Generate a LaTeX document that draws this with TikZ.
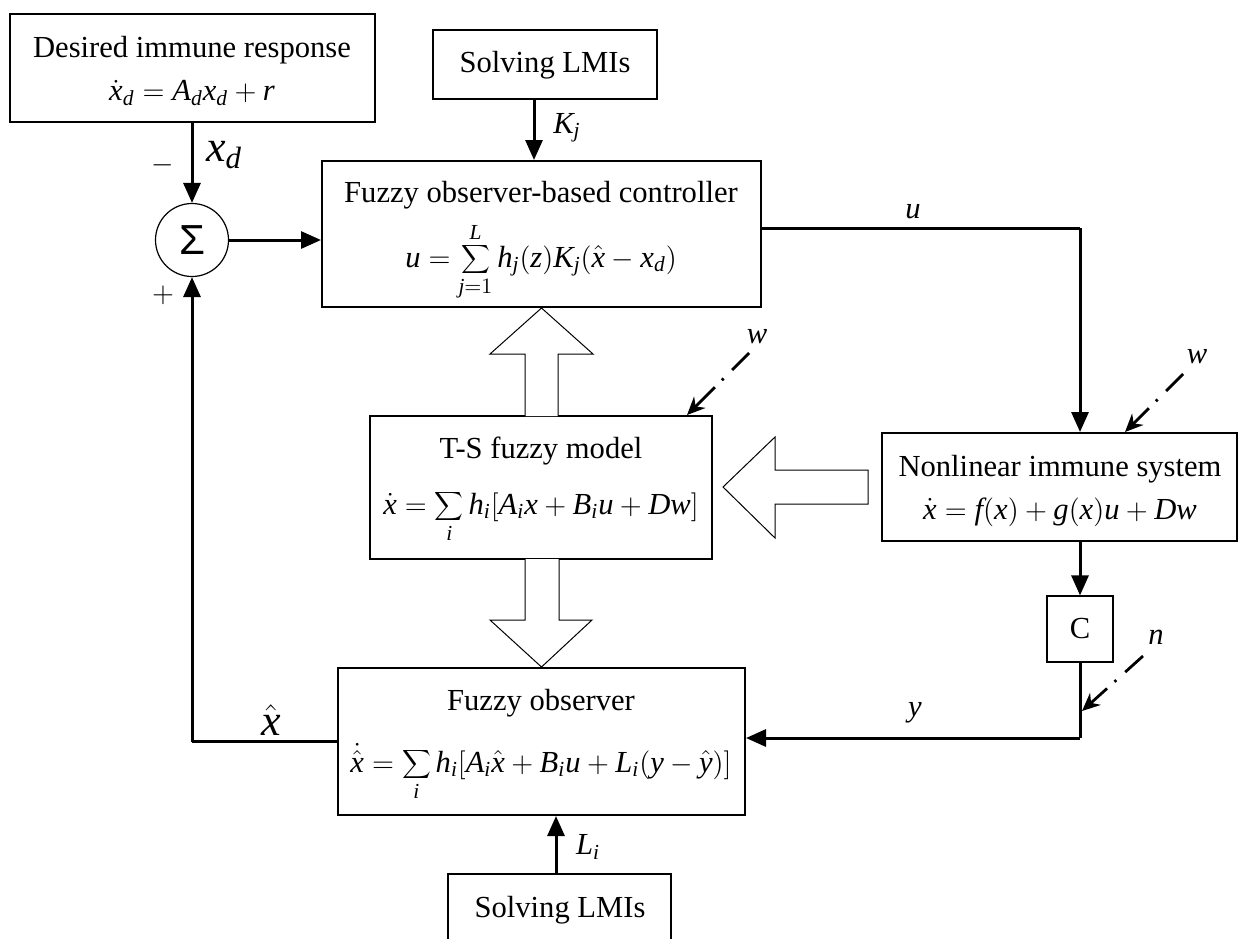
\documentclass[tikz,border=0pt]{standalone}
\usepackage{fontspec}
\setmainfont{Liberation Serif}
\newfontfamily\sigmafont{Liberation Sans}
\newfontfamily\timesfam{Liberation Serif}[NFSSFamily=timesmath]
\DeclareSymbolFont{tletters}{TU}{timesmath}{m}{it}
\DeclareSymbolFont{tupright}{TU}{timesmath}{m}{n}
\DeclareMathSymbol{a}{\mathalpha}{tletters}{`a}
\DeclareMathSymbol{d}{\mathalpha}{tletters}{`d}
\DeclareMathSymbol{f}{\mathalpha}{tletters}{`f}
\DeclareMathSymbol{g}{\mathalpha}{tletters}{`g}
\DeclareMathSymbol{h}{\mathalpha}{tletters}{`h}
\DeclareMathSymbol{i}{\mathalpha}{tletters}{`i}
\DeclareMathSymbol{j}{\mathalpha}{tletters}{`j}
\DeclareMathSymbol{n}{\mathalpha}{tletters}{`n}
\DeclareMathSymbol{r}{\mathalpha}{tletters}{`r}
\DeclareMathSymbol{u}{\mathalpha}{tletters}{`u}
\DeclareMathSymbol{w}{\mathalpha}{tletters}{`w}
\DeclareMathSymbol{x}{\mathalpha}{tletters}{`x}
\DeclareMathSymbol{y}{\mathalpha}{tletters}{`y}
\DeclareMathSymbol{z}{\mathalpha}{tletters}{`z}
\DeclareMathSymbol{A}{\mathalpha}{tletters}{`A}
\DeclareMathSymbol{B}{\mathalpha}{tletters}{`B}
\DeclareMathSymbol{D}{\mathalpha}{tletters}{`D}
\DeclareMathSymbol{K}{\mathalpha}{tletters}{`K}
\DeclareMathSymbol{L}{\mathalpha}{tletters}{`L}
\DeclareMathSymbol{1}{\mathalpha}{tupright}{`1}
\DeclareMathSymbol{(}{\mathopen}{tupright}{`(}
\DeclareMathSymbol{)}{\mathclose}{tupright}{`)}
\DeclareMathSymbol{[}{\mathopen}{tupright}{`[}
\DeclareMathSymbol{]}{\mathclose}{tupright}{`]}
\usetikzlibrary{arrows.meta,calc}
\begin{document}
\begin{tikzpicture}[x=0.5pt,y=-0.5pt,
  box/.style={draw,line width=1pt,inner sep=0pt},
  thinbox/.style={draw,line width=0.6pt,inner sep=0pt},
  lbl/.style={inner sep=0pt,font=\fontsize{15.3}{18}\selectfont},
  biglbl/.style={inner sep=0pt,font=\fontsize{22}{26}\selectfont},
  conn/.style={line width=1.5pt,-{Triangle[length=10pt,width=8.5pt]}},
  wire/.style={line width=1.5pt},
  hollow/.style={draw,fill=white,line width=0.5pt,line join=miter},
  dist/.style={line width=1.4pt,dash pattern=on 12pt off 6pt on 1.2pt off 5pt on 30pt,-{Stealth[length=9pt,width=8pt]}}]
\useasboundingbox (0,0) rectangle (1240,938);
\clip (0,0) rectangle (1240,938);

% boxes
\node[box,minimum width=182.5pt,minimum height=54pt] (des) at (192.5,68) {};
\node[box,minimum width=112pt,minimum height=34.5pt] (lmi1) at (545,64.5) {};
\node[box,minimum width=219.5pt,minimum height=73pt] (ctrl) at (541.5,234) {};
\node[draw,circle,line width=0.6pt,minimum size=36.5pt,inner sep=0pt,font=\sigmafont\fontsize{21}{24}\selectfont] (sum) at (192,240) {Σ};
\node[box,minimum width=171pt,minimum height=71.5pt] (ts) at (541,487.5) {};
\node[box,minimum width=177.5pt,minimum height=54pt] (nl) at (1059.5,487) {};
\node[thinbox,minimum width=33pt,minimum height=33pt,font=\fontsize{15.3}{18}\selectfont] (C) at (1080,629) {C};
\node[box,minimum width=203.5pt,minimum height=73.5pt] (obs) at (541.5,741.5) {};
\node[box,minimum width=111.5pt,minimum height=38pt] (lmi2) at (559.5,912) {};

% texts
\node[lbl] (desT) at (192,50) {Desired immune response};
\node[lbl] (desE) at (192,93) {$\dot{x}_d = A_d x_d + r$};
\node[lbl] (lmi1T) at (545,65) {Solving LMIs};
\node[lbl] (ctrlT) at (541,195) {Fuzzy observer-based controller};
\node[lbl,anchor=base] (ctrlE) at (541,267) {$u=\displaystyle\sum_{j=1}^{L} h_j(z)K_j(\hat{x}-x_d)$};
\node[lbl] (tsT) at (541,451) {T-S fuzzy model};
\node[lbl,anchor=base] (tsE) at (541,514) {$\dot{x}=\displaystyle\sum_{i} h_i[A_ix+B_iu+Dw]$};
\node[lbl] (nlT) at (1060,469) {Nonlinear immune system};
\node[lbl] (nlE) at (1060,512) {$\dot{x}=f(x)+g(x)u+Dw$};
\node[lbl] (obsT) at (541,703) {Fuzzy observer};
\node[lbl,anchor=base] (obsE) at (541,772) {$\dot{\hat{x}}=\displaystyle\sum_{i} h_i[A_i\hat{x}+B_iu+L_i(y-\hat{y})]$};
\node[lbl] (lmi2T) at (560,910) {Solving LMIs};

% labels
\node[lbl] (minus) at (163,165) {$-$};
\node[lbl] (plus) at (163,295) {$+$};
\node[biglbl] (xdl) at (224,155) {$x_d$};
\node[lbl] (kjl) at (567,128) {$K_j$};
\node[lbl] (ul) at (913,212) {$u$};
\node[lbl] (w1l) at (757,337) {$w$};
\node[lbl] (w2l) at (1197,357) {$w$};
\node[lbl] (nlab) at (1156,637) {$n$};
\node[biglbl] (xhl) at (271,720) {$\hat{x}$};
\node[lbl] (yl) at (915,713) {$y$};
\node[lbl] (lil) at (588,847) {$L_i$};

% helper coordinates
\coordinate (k1) at (534,0);
\coordinate (uc) at (1080,228);
\coordinate (yc) at (1080,738);
\coordinate (xc) at (192,741.5);
\coordinate (l2) at (556,0);
\coordinate (w1s) at (749,353);
\coordinate (w1e) at (687,0);
\coordinate (w2s) at (1183,374);
\coordinate (w2e) at (1125,0);
\coordinate (ns) at (1143,656);
\coordinate (ne) at (1082,711);

% connectors
\draw[conn] (des.south -| sum) -- (sum.north);
\draw[conn] (sum.east) -- (sum.east -| ctrl.west);
\draw[conn] (lmi1.south -| k1) -- (ctrl.north -| k1);
\draw[wire] (ctrl.east |- uc) -- (uc);
\draw[conn] (uc) -- (nl.north -| uc);
\draw[conn] (nl.south -| C) -- (C.north);
\draw[wire] (C.south) -- (yc);
\draw[conn] (yc) -- (yc -| obs.east);
\draw[wire] (obs.west) -- (xc);
\draw[conn] (xc) -- (sum.south);
\draw[conn] (lmi2.north -| l2) -- (obs.south -| l2);

% disturbance arrows
\draw[dist] (w1s) -- (ts.north -| w1e);
\draw[dist] (w2s) -- (nl.north -| w2e);
\draw[dist] (ns) -- (ne);

% hollow arrows
\draw[hollow] (525,416) -- (525,354) -- (490,354) -- (ctrl.south) -- (593,354) -- (558,354) -- (558,416);
\draw[hollow] (525,559) -- (525,620) -- (490,620) -- (obs.north) -- (592,620) -- (559,620) -- (559,559);
\draw[hollow] (868,470) -- (775,470) -- (775,437) -- (723,487) -- (775,538) -- (775,504) -- (868,504) -- cycle;
\end{tikzpicture}
\end{document}
